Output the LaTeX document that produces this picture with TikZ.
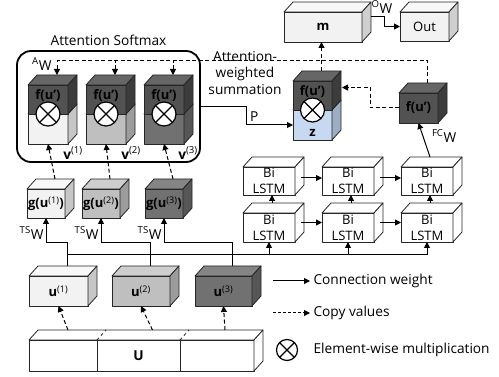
\documentclass[tikz,border=0pt]{standalone}
\usepackage{fontspec}
\setmainfont{Open Sans}
\usetikzlibrary{arrows.meta}

\newcommand{\cuboid}[7][]{%
  \node[cube, fill=#6F, minimum width=#4, minimum height=#5] (#2) at (#3) {};
  \draw[cube, fill=#6T] (#2.north west) -- ([shift={(9,-10)}]#2.north west) -- ([shift={(9,-10)}]#2.north east) -- (#2.north east) -- cycle;
  \draw[cube, fill=#6S] (#2.north east) -- ([shift={(9,-10)}]#2.north east) -- ([shift={(9,-10)}]#2.south east) -- (#2.south east) -- cycle;
  \node[align=center, inner sep=0pt, font=\fontsize{13}{16}\selectfont, #1] (#2-t) at (#2.center) {#7};
}

\begin{document}
\begin{tikzpicture}[x=1pt, y=-1pt, font=\fontsize{13.7}{16.5}\selectfont, >={Triangle[length=6pt,width=6pt]},
   cube/.style={draw=black!85, line width=0.8pt, line join=round, inner sep=0pt, outer sep=0pt},
   weight/.style={line width=1pt, ->},
   copyval/.style={weight, dash pattern=on 4pt off 2.5pt},
   otimes/.style={circle, draw, fill=white, line width=1.2pt, minimum size=24, inner sep=0pt,
     path picture={\draw[line width=1.2pt] (path picture bounding box.north west) -- (path picture bounding box.south east)
       (path picture bounding box.north east) -- (path picture bounding box.south west);}}]
   \definecolor{lightF}{HTML}{F2F2F2} \definecolor{lightT}{HTML}{F8F8F8} \definecolor{lightS}{HTML}{C6C6C6}
   \definecolor{midF}{HTML}{BFBFBF}   \definecolor{midT}{HTML}{CECECE}   \definecolor{midS}{HTML}{9C9C9C}
   \definecolor{darkF}{HTML}{717171}  \definecolor{darkT}{HTML}{858585}  \definecolor{darkS}{HTML}{565656}
   \definecolor{fF}{HTML}{525252}     \definecolor{fT}{HTML}{666666}     \definecolor{fS}{HTML}{3C3C3C}
   \definecolor{blueF}{HTML}{C6D9F1}  \definecolor{blueT}{HTML}{D5E3F5}  \definecolor{blueS}{HTML}{9CADC4}
   \definecolor{greyF}{HTML}{F2F2F2}  \definecolor{greyT}{HTML}{F8F8F8}  \definecolor{greyS}{HTML}{CFCFCF}
   \definecolor{whiteF}{HTML}{FFFFFF} \definecolor{whiteT}{HTML}{FFFFFF} \definecolor{whiteS}{HTML}{FFFFFF}
   \useasboundingbox (0,0) rectangle (499,377);

   \node[draw, line width=1.8pt, rounded corners=14pt, minimum width=183, minimum height=111] (att) at (108.5,106.5) {};
   \node[above=1pt] (att-t) at (att.north) {Attention Softmax};

   \cuboid{A1l}{48,129}{40}{30}{light}{}
   \cuboid[yshift=4pt]{A1u}{48,99.5}{40}{29}{f}{\bfseries f(u’)}
   \node[otimes] (A1x) at (A1l.north) {};
   \cuboid{A2l}{106,129}{40}{30}{mid}{}
   \cuboid[yshift=4pt]{A2u}{106,99.5}{40}{29}{f}{\bfseries f(u’)}
   \node[otimes] (A2x) at (A2l.north) {};
   \cuboid{A3l}{164,129}{40}{30}{dark}{}
   \cuboid[yshift=4pt]{A3u}{164,99.5}{40}{29}{f}{\bfseries f(u’)}
   \node[otimes] (A3x) at (A3l.north) {};
   \node (v1) at ([shift={(5,9)}]A1l.south east) {{\bfseries v}\textsuperscript{(1)}};
   \node (v2) at ([shift={(5,9)}]A2l.south east) {{\bfseries v}\textsuperscript{(2)}};
   \node (v3) at ([shift={(4,9)}]A3l.south east) {{\bfseries v}\textsuperscript{(3)}};

   \cuboid{g1}{46,203.5}{38}{29}{light}{{\bfseries g(u}\textsuperscript{(1)}{\bfseries )}}
   \cuboid{g2}{101,203.5}{38}{29}{mid}{{\bfseries g(u}\textsuperscript{(2)}{\bfseries )}}
   \cuboid{g3}{164,203.5}{38}{29}{dark}{{\bfseries g(u}\textsuperscript{(3)}{\bfseries )}}

   \cuboid{u1}{58.5,291}{59}{30}{light}{{\bfseries u}\textsuperscript{(1)}}
   \cuboid{u2}{141,291}{58}{30}{mid}{{\bfseries u}\textsuperscript{(2)}}
   \cuboid{u3}{223.5,291}{57}{30}{dark}{{\bfseries u}\textsuperscript{(3)}}

   \node[cube, fill=white, minimum width=68, minimum height=31] (U1) at (63,355.5) {};
   \node[cube, fill=white, minimum width=83, minimum height=31] (U2) at (138.5,355.5) {\bfseries U};
   \node[cube, fill=white, minimum width=74, minimum height=31] (U3) at (217,355.5) {};
   \draw[cube, fill=white] (U1.north west) -- ([shift={(9,-10)}]U1.north west) -- ([shift={(9,-10)}]U3.north east) -- (U3.north east) -- cycle;
   \draw[cube, fill=white] (U3.north east) -- ([shift={(9,-10)}]U3.north east) -- ([shift={(9,-10)}]U3.south east) -- (U3.south east) -- cycle;
   \draw[cube, dashed] (U1.north east) -- ++(9,-10) (U2.north east) -- ++(9,-10);

   \cuboid{Lt1}{269,181}{52}{28}{white}{Bi\\LSTM}
   \cuboid{Lt2}{348,181}{52}{28}{white}{Bi\\LSTM}
   \cuboid{Lt3}{427,181}{52}{28}{white}{Bi\\LSTM}
   \cuboid{Lb1}{269,227.5}{52}{29}{white}{Bi\\LSTM}
   \cuboid{Lb2}{348,227.5}{52}{29}{white}{Bi\\LSTM}
   \cuboid{Lb3}{427,227.5}{52}{29}{white}{Bi\\LSTM}

   \cuboid{FC}{418.5,108}{39}{30}{f}{\bfseries f(u’)}
   \cuboid[yshift=-8pt]{zl}{312.5,125}{39}{30}{blue}{\bfseries z}
   \cuboid[yshift=4pt]{zu}{312.5,95.5}{39}{29}{f}{\bfseries f(u’)}
   \node[otimes] (zx) at (zl.north) {};
   \node[align=center] (aws) at (245,73) {Attention-\\weighted\\summation};

   \cuboid{m}{323,27}{78}{30}{grey}{\bfseries m}
   \cuboid{out}{424.5,26.5}{49}{29}{grey}{Out}
   \draw[weight] ([shift={(9,-10)}]m.east) -- ++(13,0) |- (out.west);
   \node (ow) at ([shift={(20,-20)}]m.east) {\textsuperscript{O}W};
   \draw[copyval] ([shift={(9,-10)}]zu.north) -- ++(0,-29);

   \coordinate (aw) at ([shift={(9,-24)}]A1u.north);
   \draw[copyval] ([shift={(9,-10)}]FC.north) |- (aw) -- ([shift={(9,-10)}]A1u.north);
   \draw[copyval, <-] ([shift={(9,-10)}]A2u.north) -- ++(0,-15);
   \draw[copyval, <-] ([shift={(9,-10)}]A3u.north) -- ++(0,-15);
   \node[anchor=east] (awl) at ([shift={(-2,3)}]aw) {\textsuperscript{A}W};
   \draw[copyval] (FC.west) -- ++(-29,0) |- ([shift={(10,-8)}]zu.east);
   \draw[weight] (att.east) -- ++(46,0) |- node[pos=0.58, above] (p) {P} (zl.west);

   \draw[copyval] ([shift={(9,-10)}]g1.north) -- (A1l.south);
   \draw[copyval] ([shift={(9,-10)}]g2.north) -- (A2l.south);
   \draw[copyval] ([shift={(9,-10)}]g3.north) -- (A3l.south);

   \draw[weight] ([shift={(9,-10)}]u1.north) |- ([shift={(0,25)}]g1.south) -- (g1.south);
   \draw[weight] ([shift={(9,-10)}]u2.north) |- ([shift={(0,25)}]g2.south) -- (g2.south);
   \draw[weight] ([shift={(9,-10)}]u3.north) |- ([shift={(0,25)}]g3.south) -- (g3.south);
   \node[anchor=east] (ts1) at ([shift={(1,15)}]g1.south) {\textsuperscript{TS}W};
   \node[anchor=east] (ts2) at ([shift={(1,15)}]g2.south) {\textsuperscript{TS}W};
   \node[anchor=east] (ts3) at ([shift={(1,15)}]g3.south) {\textsuperscript{TS}W};

   \coordinate (bus) at ([shift={(9,-21)}]u1.north);
   \draw[weight] (bus) -| (Lb3.south);
   \draw[weight] (bus -| Lb1.south) -- (Lb1.south);
   \draw[weight] (bus -| Lb2.south) -- (Lb2.south);
   \draw[weight] ([shift={(6,-3)}]Lt1.east) -- ([shift={(0,-3)}]Lt2.west);
   \draw[weight] ([shift={(6,-3)}]Lt2.east) -- ([shift={(0,-3)}]Lt3.west);
   \draw[weight] ([shift={(6,-5)}]Lb1.east) -- ([shift={(0,-5)}]Lb2.west);
   \draw[weight] ([shift={(6,-5)}]Lb2.east) -- ([shift={(0,-5)}]Lb3.west);
   \draw[weight] ([shift={(3,-10)}]Lb1.north) -- ([shift={(3,0)}]Lt1.south);
   \draw[weight] ([shift={(3,-10)}]Lb2.north) -- ([shift={(3,0)}]Lt2.south);
   \draw[weight] ([shift={(3,-10)}]Lb3.north) -- ([shift={(3,0)}]Lt3.south);
   \draw[weight] ([shift={(3,-10)}]Lt3.north) -- (FC.south);
   \node[anchor=west] (fcw) at ([shift={(10,13)}]FC.south) {\textsuperscript{FC}W};

   \draw[copyval] ([shift={(5,-10)}]U1.north) -- (u1.south);
   \draw[copyval] ([shift={(14,-10)}]U2.north) -- (u2.south);
   \draw[copyval] ([shift={(8,-10)}]U3.north) -- (u3.south);

   \node[anchor=west] (lgw) at (310,281) {Connection weight};
   \draw[weight] ([xshift=-37pt]lgw.west) -- (lgw.west);
   \node[anchor=west] (lgc) at (310,313) {Copy values};
   \draw[copyval, dash pattern=on 3pt off 2pt] ([xshift=-37pt]lgc.west) -- (lgc.west);
   \node[otimes, minimum size=21] (lgx) at (287,350) {};
   \node[anchor=west] (lgm) at (310,350) {Element-wise multiplication};
\end{tikzpicture}
\end{document}
